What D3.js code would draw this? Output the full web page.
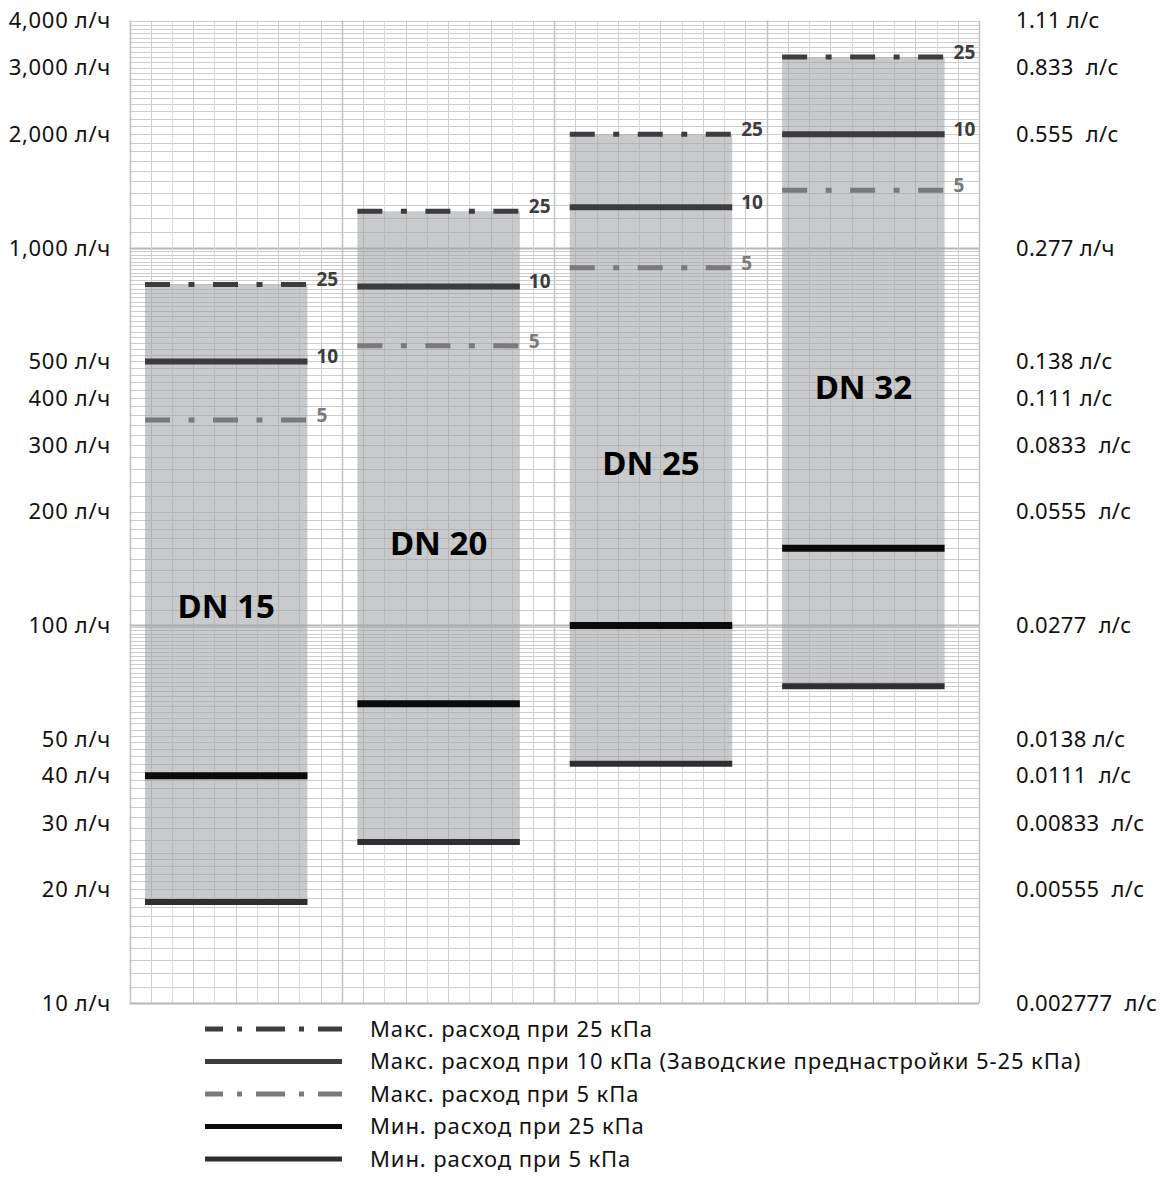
<!DOCTYPE html>
<html>
<head>
<meta charset="utf-8">
<script src="https://cdn.jsdelivr.net/npm/d3@7"></script>
<style>
  body { margin: 0; background: #fff; }
  text { font-family: "Noto Sans", "Open Sans", sans-serif; }
</style>
</head>
<body>
<svg id="chart" width="1163" height="1200"></svg>
<script>
// valve sizes and flow limits, л/ч
const sizes = ["DN 15", "DN 20", "DN 25", "DN 32"];
const max25 = [800, 1250, 2000, 3200];
const max10 = [500, 790, 1280, 2000];
const max5 = [350, 550, 885, 1420];
const min25 = [40, 62, 100, 160];
const min5 = [18.5, 26.7, 43, 69];
const sizeLabelAt = [112, 165, 268, 426];

const leftTicks = [4000, 3000, 2000, 1000, 500, 400, 300, 200, 100, 50, 40, 30, 20, 10];
const leftLabels = ["4,000 л/ч", "3,000 л/ч", "2,000 л/ч", "1,000 л/ч", "500 л/ч", "400 л/ч",
  "300 л/ч", "200 л/ч", "100 л/ч", "50 л/ч", "40 л/ч", "30 л/ч", "20 л/ч", "10 л/ч"];
const rightLabels = ["1.11 л/с", "0.833  л/с", "0.555  л/с", "0.277 л/ч", "0.138 л/с", "0.111 л/с",
  "0.0833  л/с", "0.0555  л/с", "0.0277  л/с", "0.0138 л/с", "0.0111  л/с", "0.00833  л/с",
  "0.00555  л/с", "0.002777  л/с"];

const legendLabels = [
  "Макс. расход при 25 кПа",
  "Макс. расход при 10 кПа (Заводские преднастройки 5-25 кПа)",
  "Макс. расход при 5 кПа",
  "Мин. расход при 25 кПа",
  "Мин. расход при 5 кПа"
];

const plotL = 129.5, plotR = 979, plotT = 20.5, plotB = 1003;

const svg = d3.select("#chart");

const y = d3.scaleLog().domain([10, 4000]).range([plotB, plotT]);
const x = d3.scaleBand().domain(sizes).range([plotL, plotR]).padding(0);
const bw = x.bandwidth();

// line styles for the five series
const styles = [
  { key: "max25", data: max25, color: "#3d3d3f", width: 5, dash: "25 18.5 6 18.5", tag: "25" },
  { key: "max10", data: max10, color: "#3c3c3e", width: 6, dash: null, tag: "10" },
  { key: "max5", data: max5, color: "#7a7a7c", width: 5, dash: "25 18.5 6 18.5", tag: "5" },
  { key: "min25", data: min25, color: "#0b0b0b", width: 7, dash: null },
  { key: "min5", data: min5, color: "#2f2f31", width: 6, dash: null }
];

// log paper grid (the paper is not uniform from decade to decade)
const gridVals = [];
for (let v = 10; v < 25; v += 1) gridVals.push(v);
for (let v = 25; v < 100; v += 2) gridVals.push(v);
for (let v = 100; v < 200; v += 10) gridVals.push(v);
for (let v = 200; v < 1000; v += 20) gridVals.push(v);
for (let v = 1000; v <= 4000; v += 100) gridVals.push(v);

const isDecade = d => [10, 100, 1000].includes(d);

const grid = svg.append("g");
grid.selectAll("line.h")
  .data(gridVals)
  .join("line")
  .attr("class", "h")
  .attr("x1", plotL).attr("x2", plotR)
  .attr("y1", d => Math.round(y(d)) + 0.5)
  .attr("y2", d => Math.round(y(d)) + 0.5)
  .attr("stroke", d => isDecade(d) ? "#b8b8b8" : "#cdcdcd")
  .attr("stroke-width", d => isDecade(d) ? 2 : 1);

const cols = d3.range(41);
grid.selectAll("line.v")
  .data(cols)
  .join("line")
  .attr("class", "v")
  .attr("y1", plotT).attr("y2", plotB)
  .attr("x1", i => Math.round(plotL + i * bw / 10) + 0.5)
  .attr("x2", i => Math.round(plotL + i * bw / 10) + 0.5)
  .attr("stroke", i => i % 10 === 0 ? "#c2c2c2" : (i % 2 ? "#cfcfcf" : "#dadada"))
  .attr("stroke-width", i => i % 10 === 0 ? 1.5 : 1);

// range bars
const barX = d => x(d) + bw * 0.073;
const barW = bw * 0.765;

svg.append("g")
  .selectAll("rect")
  .data(sizes)
  .join("rect")
  .attr("x", barX)
  .attr("width", barW)
  .attr("y", (d, i) => y(max25[i]))
  .attr("height", (d, i) => y(min5[i]) - y(max25[i]))
  .attr("fill", "#9d9ea0")
  .attr("fill-opacity", 0.55);

// flow lines
styles.forEach(s => {
  const g = svg.append("g");
  g.selectAll("line")
    .data(sizes)
    .join("line")
    .attr("x1", barX)
    .attr("x2", d => barX(d) + barW)
    .attr("y1", (d, i) => y(s.data[i]))
    .attr("y2", (d, i) => y(s.data[i]))
    .attr("stroke", s.color)
    .attr("stroke-width", s.width)
    .attr("stroke-dasharray", s.dash);
  if (s.tag) {
    g.selectAll("text")
      .data(sizes)
      .join("text")
      .attr("x", d => barX(d) + barW + 9)
      .attr("y", (d, i) => y(s.data[i]) + 2)
      .attr("fill", s.color)
      .attr("font-size", 19)
      .attr("font-weight", "bold")
      .text(s.tag);
  }
});

// DN labels
svg.append("g")
  .selectAll("text")
  .data(sizes)
  .join("text")
  .attr("x", d => barX(d) + barW / 2)
  .attr("y", (d, i) => y(sizeLabelAt[i]))
  .attr("dy", "0.35em")
  .attr("text-anchor", "middle")
  .attr("font-size", 33)
  .attr("font-weight", "bold")
  .attr("fill", "#000")
  .text(d => d);

// axes labels
svg.append("g")
  .selectAll("text")
  .data(leftTicks)
  .join("text")
  .attr("x", 111)
  .attr("y", d => y(d))
  .attr("dy", "0.35em")
  .attr("text-anchor", "end")
  .attr("font-size", 22)
  .attr("letter-spacing", 0.7)
  .attr("fill", "#111")
  .text((d, i) => leftLabels[i]);

svg.append("g")
  .selectAll("text")
  .data(leftTicks)
  .join("text")
  .attr("x", 1016)
  .attr("y", d => y(d))
  .attr("dy", "0.35em")
  .attr("font-size", 22)
  .attr("letter-spacing", 0.3)
  .attr("fill", "#111")
  .style("white-space", "pre")
  .text((d, i) => rightLabels[i]);

// legend
const legend = svg.append("g");
const legRow = d3.scalePoint().domain(d3.range(legendLabels.length)).range([1029, 1159]);
legendLabels.forEach((lab, i) => {
  const s = styles[i];
  legend.append("line")
    .attr("x1", 205).attr("x2", 342)
    .attr("y1", legRow(i)).attr("y2", legRow(i))
    .attr("stroke", s.color)
    .attr("stroke-width", 5)
    .attr("stroke-dasharray", s.dash ? "29 14 5 14" : null)
    .attr("stroke-dashoffset", s.dash ? 11 : null);
  legend.append("text")
    .attr("x", 370)
    .attr("y", legRow(i))
    .attr("dy", "0.35em")
    .attr("font-size", 22)
    .attr("letter-spacing", 0.9)
    .attr("fill", "#111")
    .text(lab);
});
</script>
</body>
</html>
